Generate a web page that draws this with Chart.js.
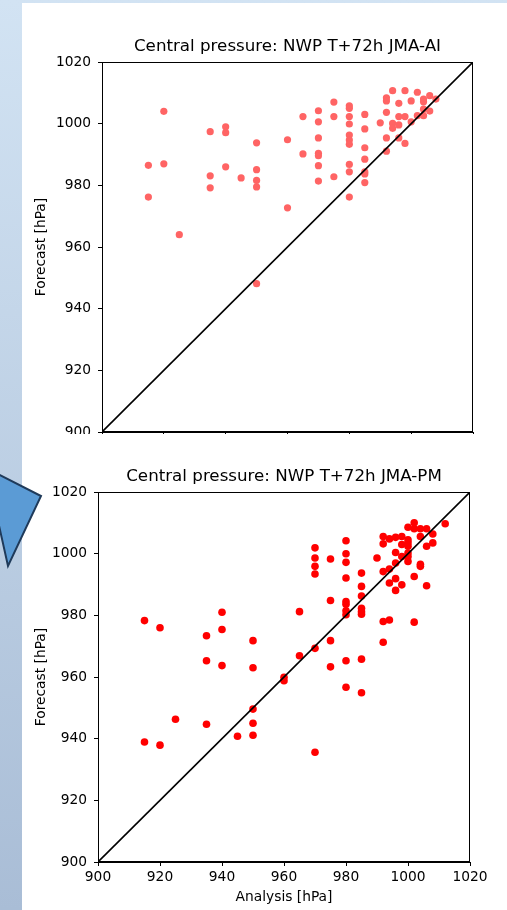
<!DOCTYPE html>
<html>
<head>
<meta charset="utf-8">
<script src="https://cdn.jsdelivr.net/npm/chart.js@4"></script>
<style>
  body { margin: 0; width: 507px; height: 910px; overflow: hidden; position: relative;
         background: linear-gradient(to bottom, #d2e3f3, #a9bdd6); }
  #panel { position: absolute; left: 22px; top: 3px; width: 485px; height: 907px; background: #fff; }
  .box { position: absolute; left: 0; width: 507px; }
  #arrow { position: absolute; left: 0; top: 0; }
</style>
</head>
<body>
<div id="panel"></div>
<div class="box" style="top:0; height:434px; overflow:hidden;"><canvas id="aiChart" width="507" height="480"></canvas></div>
<div class="box" style="top:430px; height:480px;"><canvas id="pmChart" width="507" height="480"></canvas></div>
<svg id="arrow" width="60" height="600">
  <polygon points="-10,470 41,496 8,566 -10,485" fill="#5b9bd5" stroke="#1f3a5a" stroke-width="2"/>
</svg>
<script>
// JMA-AI (top), T+72h
const aiAnalysis = [915, 915, 920, 920, 925, 935, 935, 935, 940, 940, 940, 945, 950, 950, 950, 950, 950, 960, 960,
  965, 965, 970, 970, 970, 970, 970, 970, 970, 975, 975, 975,
  980, 980, 980, 980, 980, 980, 980, 980, 980, 980, 985, 985, 985, 985, 985, 985, 985,
  990, 992, 992, 992, 992, 992, 994, 994, 994, 996, 996, 996, 996, 998, 998, 998,
  1000, 1000, 1002, 1002, 1004, 1004, 1004, 1004, 1006, 1006, 1008];
const aiForecast = [986.5, 976.2, 1004, 987, 964, 997.4, 983.1, 979.2, 999, 997.1, 986, 982.4, 993.8, 985.1, 981.6, 979.5, 948.1, 994.8, 972.7,
  1002.3, 990.2, 1004.2, 1000.6, 995.4, 990.4, 989.6, 986.4, 981.4, 1007, 1002.3, 982.8,
  1005.8, 1005, 1002.3, 999.9, 996.3, 994.7, 993.3, 986.8, 984.4, 976.2, 1003, 998.3, 992.2, 988.5, 984.4, 983.7, 980.9,
  1000.3, 1008.4, 1007.4, 1003.7, 995.4, 991.1, 1010.7, 1000.1, 998.5, 1006.6, 1002.3, 999.6, 995.4, 1010.7, 1002.3, 993.6,
  1007.4, 1000.6, 1010.2, 1002.6, 1008, 1007.1, 1004.7, 1002.6, 1009.1, 1004.1, 1008];

// JMA-PM (bottom), T+72h
const pmAnalysis = [915, 915, 920, 920, 925, 935, 935, 935, 940, 940, 940, 945, 950, 950, 950, 950, 950, 960, 960,
  965, 965, 970, 970, 970, 970, 970, 970, 975, 975, 975, 975,
  980, 980, 980, 980, 980, 980, 980, 980, 980, 980, 985, 985, 985, 985, 985, 985, 985, 985,
  990, 992, 992, 992, 992, 992, 994, 994, 994, 994, 996, 996, 996, 996, 996, 998, 998, 998, 998,
  1000, 1000, 1000, 1000, 1000, 1000, 1000, 1002, 1002, 1002, 1002, 1004, 1004, 1004, 1004,
  1006, 1006, 1006, 1008, 1008, 1012];
const pmForecast = [978.3, 938.9, 976, 937.9, 946.3, 973.4, 965.3, 944.7, 981, 975.4, 963.7, 940.8, 971.8, 963, 949.6, 945, 941.1, 959.9, 958.8,
  981.2, 966.9, 1001.9, 998.6, 995.9, 993.4, 969.3, 935.6, 998.3, 984.8, 971.8, 963.3,
  1004.2, 1000, 997.2, 992.1, 984.5, 983.6, 981.5, 980.2, 965.3, 956.7, 993.7, 989.4, 986.3, 982.3, 981.2, 980.4, 965.8, 954.9,
  998.6, 1005.6, 1003.2, 994.2, 978, 971.3, 1004.8, 995, 990.5, 978.5, 1005.3, 1000.4, 997, 991.9, 988.1, 1005.6, 1003, 999.1, 989.9,
  1008.6, 1004.5, 1003.5, 1002.4, 1000.2, 999.1, 997.5, 1010, 1008.1, 992.6, 977.8, 1008.1, 1005.6, 996.6, 995.9,
  1008.1, 1002.4, 989.6, 1006.4, 1003.5, 1009.7];

const axisTicks = [900, 920, 940, 960, 980, 1000, 1020];
const oneToOne = [900, 1020];

Chart.defaults.font.family = "'DejaVu Sans', sans-serif";
Chart.defaults.color = '#000';

// matplotlib style box around the plot area
const frame = {
  id: 'frame',
  afterDraw(chart) {
    const a = chart.chartArea, c = chart.ctx;
    c.save();
    c.strokeStyle = '#000';
    c.lineWidth = 1;
    c.strokeRect(Math.round(a.left) + 0.5, Math.round(a.top) + 0.5,
                 Math.round(a.right - a.left) - 1, Math.round(a.bottom - a.top) - 1);
    c.restore();
  }
};

function makeChart(id, title, xs, ys, color, radius, yWidth, padRight) {
  const tickFont = { size: 13.8 };
  const axis = (label) => ({
    type: 'linear',
    min: axisTicks[0],
    max: axisTicks[axisTicks.length - 1],
    afterBuildTicks: s => { s.ticks = axisTicks.map(v => ({ value: v })); },
    ticks: { font: tickFont, color: '#000', callback: v => String(v) },
    grid: { drawOnChartArea: false, tickLength: 4, color: '#000' },
    border: { color: '#000', width: 1 },
    title: { display: true, text: label, font: tickFont, color: '#000' }
  });
  const x = axis('Analysis [hPa]');
  x.ticks.padding = 3;
  x.title.padding = { top: 0, bottom: 4.7 };
  x.afterFit = s => { s.height = 48; };
  const y = axis('Forecast [hPa]');
  y.ticks.padding = 7;
  y.title.padding = { top: 32.7, bottom: 0 };
  y.afterFit = s => { s.width = yWidth; };

  return new Chart(document.getElementById(id), {
    type: 'scatter',
    data: {
      datasets: [
        {
          data: oneToOne.map(v => ({ x: v, y: v })),
          showLine: true, borderColor: '#000', borderWidth: 1.6,
          pointRadius: 0, order: 0
        },
        {
          data: xs.map((v, i) => ({ x: v, y: ys[i] })),
          pointRadius: radius, pointBackgroundColor: color,
          pointBorderWidth: 0, order: 1
        }
      ]
    },
    options: {
      responsive: false,
      animation: false,
      layout: { padding: { left: 0, right: padRight, top: 0, bottom: 0 } },
      plugins: {
        legend: { display: false },
        tooltip: { enabled: false },
        title: {
          display: true, text: title, fullSize: false, color: '#000',
          font: { size: 16.7, weight: 'normal' },
          padding: { top: 36.4, bottom: 5.6 }
        }
      },
      scales: { x: x, y: y }
    },
    plugins: [frame]
  });
}

makeChart('aiChart', 'Central pressure: NWP T+72h JMA-AI', aiAnalysis, aiForecast, 'rgb(255,100,100)', 3.6, 102, 34);
makeChart('pmChart', 'Central pressure: NWP T+72h JMA-PM', pmAnalysis, pmForecast, '#ff0000', 3.8, 98, 37);
</script>
</body>
</html>
